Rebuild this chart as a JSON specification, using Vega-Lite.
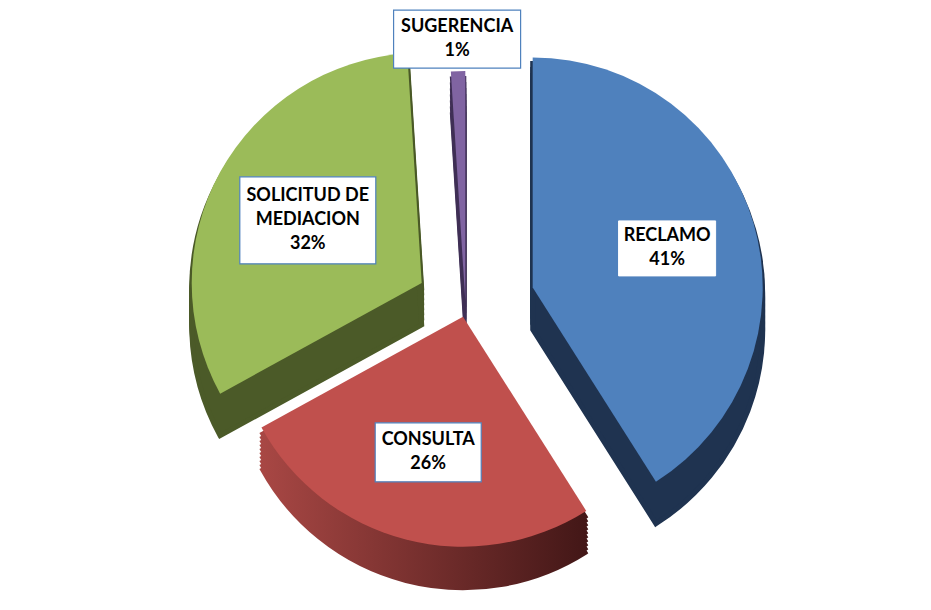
{
  "$schema": "https://vega.github.io/schema/vega-lite/v6.json",
  "width": 931,
  "height": 610,
  "autosize": {"type": "fit", "contains": "padding"},
  "padding": 0,
  "background": "white",
  "view": {"stroke": null},
  "data": {
    "values": [
      {"cat": "RECLAMO", "value": 41, "ord": 1, "label": ["RECLAMO", "41%"]},
      {"cat": "CONSULTA", "value": 26, "ord": 2, "label": ["CONSULTA", "26%"]},
      {"cat": "SOLICITUD DE MEDIACION", "value": 32, "ord": 3, "label": ["SOLICITUD DE", "MEDIACION", "32%"]},
      {"cat": "SUGERENCIA", "value": 1, "ord": 4, "label": ["SUGERENCIA", "1%"]}
    ]
  },
  "transform": [
    {"stack": "value", "groupby": [], "sort": [{"field": "ord", "order": "ascending"}], "as": ["v0", "v1"]}
  ],
  "layer": [
    {
      "encoding": {
        "theta": {"field": "v0", "type": "quantitative", "stack": null, "scale": {"domain": [0, 100]}},
        "theta2": {"field": "v1"}
      },
      "layer": [
        {"transform": [{"filter": "datum.cat === 'SUGERENCIA'"}], "mark": {"type": "arc", "radius": 230, "color": "#3f2f55", "stroke": "#3f2f55", "strokeWidth": 2, "xOffset": -0.2, "yOffset": 2}},
        {"transform": [{"filter": "datum.cat === 'SUGERENCIA'"}], "mark": {"type": "arc", "radius": 230, "color": "#3f2f55", "stroke": "#3f2f55", "strokeWidth": 2, "xOffset": -0.2, "yOffset": 8}},
        {"transform": [{"filter": "datum.cat === 'SUGERENCIA'"}], "mark": {"type": "arc", "radius": 230, "color": "#3f2f55", "stroke": "#3f2f55", "strokeWidth": 2, "xOffset": -0.2, "yOffset": 14}},
        {"transform": [{"filter": "datum.cat === 'SUGERENCIA'"}], "mark": {"type": "arc", "radius": 230, "color": "#3f2f55", "stroke": "#3f2f55", "strokeWidth": 2, "xOffset": -0.2, "yOffset": 20}},
        {"transform": [{"filter": "datum.cat === 'SUGERENCIA'"}], "mark": {"type": "arc", "radius": 230, "color": "#3f2f55", "stroke": "#3f2f55", "strokeWidth": 2, "xOffset": -0.2, "yOffset": 26}},
        {"transform": [{"filter": "datum.cat === 'SUGERENCIA'"}], "mark": {"type": "arc", "radius": 230, "color": "#3f2f55", "stroke": "#3f2f55", "strokeWidth": 2, "xOffset": -0.2, "yOffset": 32}},
        {"transform": [{"filter": "datum.cat === 'SUGERENCIA'"}], "mark": {"type": "arc", "radius": 230, "color": "#3f2f55", "stroke": "#3f2f55", "strokeWidth": 2, "xOffset": -0.2, "yOffset": 38}},
        {"transform": [{"filter": "datum.cat === 'SUGERENCIA'"}], "mark": {"type": "arc", "radius": 230, "color": "#8064a2", "xOffset": -0.2, "yOffset": -4}},

        {"transform": [{"filter": "datum.cat === 'SOLICITUD DE MEDIACION'"}], "mark": {"type": "arc", "radius": 230, "color": "#4b5a28", "stroke": "#4b5a28", "strokeWidth": 5, "xOffset": -43.8, "yOffset": -16.1}},
        {"transform": [{"filter": "datum.cat === 'SOLICITUD DE MEDIACION'"}], "mark": {"type": "arc", "radius": 230, "color": "#4b5a28", "stroke": "#4b5a28", "strokeWidth": 5, "xOffset": -43.8, "yOffset": -11.1}},
        {"transform": [{"filter": "datum.cat === 'SOLICITUD DE MEDIACION'"}], "mark": {"type": "arc", "radius": 230, "color": "#4b5a28", "stroke": "#4b5a28", "strokeWidth": 5, "xOffset": -43.8, "yOffset": -6.1}},
        {"transform": [{"filter": "datum.cat === 'SOLICITUD DE MEDIACION'"}], "mark": {"type": "arc", "radius": 230, "color": "#4b5a28", "stroke": "#4b5a28", "strokeWidth": 5, "xOffset": -43.8, "yOffset": -1.1}},
        {"transform": [{"filter": "datum.cat === 'SOLICITUD DE MEDIACION'"}], "mark": {"type": "arc", "radius": 230, "color": "#4b5a28", "stroke": "#4b5a28", "strokeWidth": 5, "xOffset": -43.8, "yOffset": 3.9}},
        {"transform": [{"filter": "datum.cat === 'SOLICITUD DE MEDIACION'"}], "mark": {"type": "arc", "radius": 230, "color": "#4b5a28", "stroke": "#4b5a28", "strokeWidth": 5, "xOffset": -43.8, "yOffset": 8.9}},
        {"transform": [{"filter": "datum.cat === 'SOLICITUD DE MEDIACION'"}], "mark": {"type": "arc", "radius": 230, "color": "#4b5a28", "stroke": "#4b5a28", "strokeWidth": 5, "xOffset": -43.8, "yOffset": 13.9}},
        {"transform": [{"filter": "datum.cat === 'SOLICITUD DE MEDIACION'"}], "mark": {"type": "arc", "radius": 230, "color": "#4b5a28", "stroke": "#4b5a28", "strokeWidth": 5, "xOffset": -43.8, "yOffset": 19.9}},
        {"transform": [{"filter": "datum.cat === 'SOLICITUD DE MEDIACION'"}], "mark": {"type": "arc", "radius": 230, "color": "#9bbb59", "xOffset": -43.8, "yOffset": -22.1}},

        {"transform": [{"filter": "datum.cat === 'RECLAMO'"}], "mark": {"type": "arc", "radius": 230, "color": "#1f3350", "stroke": "#1f3350", "strokeWidth": 5, "xOffset": 67.2, "yOffset": -11.5}},
        {"transform": [{"filter": "datum.cat === 'RECLAMO'"}], "mark": {"type": "arc", "radius": 230, "color": "#1f3350", "stroke": "#1f3350", "strokeWidth": 5, "xOffset": 67.2, "yOffset": -5.5}},
        {"transform": [{"filter": "datum.cat === 'RECLAMO'"}], "mark": {"type": "arc", "radius": 230, "color": "#1f3350", "stroke": "#1f3350", "strokeWidth": 5, "xOffset": 67.2, "yOffset": 0.5}},
        {"transform": [{"filter": "datum.cat === 'RECLAMO'"}], "mark": {"type": "arc", "radius": 230, "color": "#1f3350", "stroke": "#1f3350", "strokeWidth": 5, "xOffset": 67.2, "yOffset": 6.5}},
        {"transform": [{"filter": "datum.cat === 'RECLAMO'"}], "mark": {"type": "arc", "radius": 230, "color": "#1f3350", "stroke": "#1f3350", "strokeWidth": 5, "xOffset": 67.2, "yOffset": 12.5}},
        {"transform": [{"filter": "datum.cat === 'RECLAMO'"}], "mark": {"type": "arc", "radius": 230, "color": "#1f3350", "stroke": "#1f3350", "strokeWidth": 5, "xOffset": 67.2, "yOffset": 18.5}},
        {"transform": [{"filter": "datum.cat === 'RECLAMO'"}], "mark": {"type": "arc", "radius": 230, "color": "#1f3350", "stroke": "#1f3350", "strokeWidth": 5, "xOffset": 67.2, "yOffset": 24.5}},
        {"transform": [{"filter": "datum.cat === 'RECLAMO'"}], "mark": {"type": "arc", "radius": 230, "color": "#4f81bd", "xOffset": 67.2, "yOffset": -17.5}},

        {"transform": [{"filter": "datum.cat === 'CONSULTA'"}], "mark": {"type": "arc", "radius": 230, "color": {"gradient": "linear", "x1": 0, "y1": 0, "x2": 1, "y2": 0, "stops": [{"offset": 0, "color": "#a84744"}, {"offset": 1, "color": "#431717"}]}, "stroke": {"gradient": "linear", "x1": 0, "y1": 0, "x2": 1, "y2": 0, "stops": [{"offset": 0, "color": "#a84744"}, {"offset": 1, "color": "#431717"}]}, "strokeWidth": 3, "xOffset": -2.5, "yOffset": 17.7}},
        {"transform": [{"filter": "datum.cat === 'CONSULTA'"}], "mark": {"type": "arc", "radius": 230, "color": {"gradient": "linear", "x1": 0, "y1": 0, "x2": 1, "y2": 0, "stops": [{"offset": 0, "color": "#a84744"}, {"offset": 1, "color": "#431717"}]}, "stroke": {"gradient": "linear", "x1": 0, "y1": 0, "x2": 1, "y2": 0, "stops": [{"offset": 0, "color": "#a84744"}, {"offset": 1, "color": "#431717"}]}, "strokeWidth": 3, "xOffset": -2.5, "yOffset": 21.7}},
        {"transform": [{"filter": "datum.cat === 'CONSULTA'"}], "mark": {"type": "arc", "radius": 230, "color": {"gradient": "linear", "x1": 0, "y1": 0, "x2": 1, "y2": 0, "stops": [{"offset": 0, "color": "#a84744"}, {"offset": 1, "color": "#431717"}]}, "stroke": {"gradient": "linear", "x1": 0, "y1": 0, "x2": 1, "y2": 0, "stops": [{"offset": 0, "color": "#a84744"}, {"offset": 1, "color": "#431717"}]}, "strokeWidth": 3, "xOffset": -2.5, "yOffset": 25.7}},
        {"transform": [{"filter": "datum.cat === 'CONSULTA'"}], "mark": {"type": "arc", "radius": 230, "color": {"gradient": "linear", "x1": 0, "y1": 0, "x2": 1, "y2": 0, "stops": [{"offset": 0, "color": "#a84744"}, {"offset": 1, "color": "#431717"}]}, "stroke": {"gradient": "linear", "x1": 0, "y1": 0, "x2": 1, "y2": 0, "stops": [{"offset": 0, "color": "#a84744"}, {"offset": 1, "color": "#431717"}]}, "strokeWidth": 3, "xOffset": -2.5, "yOffset": 29.7}},
        {"transform": [{"filter": "datum.cat === 'CONSULTA'"}], "mark": {"type": "arc", "radius": 230, "color": {"gradient": "linear", "x1": 0, "y1": 0, "x2": 1, "y2": 0, "stops": [{"offset": 0, "color": "#a84744"}, {"offset": 1, "color": "#431717"}]}, "stroke": {"gradient": "linear", "x1": 0, "y1": 0, "x2": 1, "y2": 0, "stops": [{"offset": 0, "color": "#a84744"}, {"offset": 1, "color": "#431717"}]}, "strokeWidth": 3, "xOffset": -2.5, "yOffset": 33.7}},
        {"transform": [{"filter": "datum.cat === 'CONSULTA'"}], "mark": {"type": "arc", "radius": 230, "color": {"gradient": "linear", "x1": 0, "y1": 0, "x2": 1, "y2": 0, "stops": [{"offset": 0, "color": "#a84744"}, {"offset": 1, "color": "#431717"}]}, "stroke": {"gradient": "linear", "x1": 0, "y1": 0, "x2": 1, "y2": 0, "stops": [{"offset": 0, "color": "#a84744"}, {"offset": 1, "color": "#431717"}]}, "strokeWidth": 3, "xOffset": -2.5, "yOffset": 37.7}},
        {"transform": [{"filter": "datum.cat === 'CONSULTA'"}], "mark": {"type": "arc", "radius": 230, "color": {"gradient": "linear", "x1": 0, "y1": 0, "x2": 1, "y2": 0, "stops": [{"offset": 0, "color": "#a84744"}, {"offset": 1, "color": "#431717"}]}, "stroke": {"gradient": "linear", "x1": 0, "y1": 0, "x2": 1, "y2": 0, "stops": [{"offset": 0, "color": "#a84744"}, {"offset": 1, "color": "#431717"}]}, "strokeWidth": 3, "xOffset": -2.5, "yOffset": 41.7}},
        {"transform": [{"filter": "datum.cat === 'CONSULTA'"}], "mark": {"type": "arc", "radius": 230, "color": {"gradient": "linear", "x1": 0, "y1": 0, "x2": 1, "y2": 0, "stops": [{"offset": 0, "color": "#a84744"}, {"offset": 1, "color": "#431717"}]}, "stroke": {"gradient": "linear", "x1": 0, "y1": 0, "x2": 1, "y2": 0, "stops": [{"offset": 0, "color": "#a84744"}, {"offset": 1, "color": "#431717"}]}, "strokeWidth": 3, "xOffset": -2.5, "yOffset": 45.7}},
        {"transform": [{"filter": "datum.cat === 'CONSULTA'"}], "mark": {"type": "arc", "radius": 230, "color": {"gradient": "linear", "x1": 0, "y1": 0, "x2": 1, "y2": 0, "stops": [{"offset": 0, "color": "#a84744"}, {"offset": 1, "color": "#431717"}]}, "stroke": {"gradient": "linear", "x1": 0, "y1": 0, "x2": 1, "y2": 0, "stops": [{"offset": 0, "color": "#a84744"}, {"offset": 1, "color": "#431717"}]}, "strokeWidth": 3, "xOffset": -2.5, "yOffset": 49.7}},
        {"transform": [{"filter": "datum.cat === 'CONSULTA'"}], "mark": {"type": "arc", "radius": 230, "color": {"gradient": "linear", "x1": 0, "y1": 0, "x2": 1, "y2": 0, "stops": [{"offset": 0, "color": "#a84744"}, {"offset": 1, "color": "#431717"}]}, "stroke": {"gradient": "linear", "x1": 0, "y1": 0, "x2": 1, "y2": 0, "stops": [{"offset": 0, "color": "#a84744"}, {"offset": 1, "color": "#431717"}]}, "strokeWidth": 3, "xOffset": -2.5, "yOffset": 53.7}},
        {"transform": [{"filter": "datum.cat === 'CONSULTA'"}], "mark": {"type": "arc", "radius": 230, "color": "#c0504d", "xOffset": -2.5, "yOffset": 11.7}}
      ]
    },
    {"transform": [{"filter": "datum.cat === 'RECLAMO'"}], "encoding": {}, "mark": {"type": "point", "shape": "M-1.764,-1H1.764V1H-1.764Z", "size": 3025, "filled": true, "fill": "white", "stroke": "#ffffff", "strokeWidth": 1, "opacity": 1, "xOffset": 201.6, "yOffset": -56.6}},
    {"transform": [{"filter": "datum.cat === 'CONSULTA'"}], "encoding": {}, "mark": {"type": "point", "shape": "M-1.797,-1H1.797V1H-1.797Z", "size": 3481, "filled": true, "fill": "white", "stroke": "#4f81bd", "strokeWidth": 1.2, "opacity": 1, "xOffset": -37.3, "yOffset": 147.3}},
    {"transform": [{"filter": "datum.cat === 'SOLICITUD DE MEDIACION'"}], "encoding": {}, "mark": {"type": "point", "shape": "M-1.563,-1H1.563V1H-1.563Z", "size": 7569, "filled": true, "fill": "white", "stroke": "#4f81bd", "strokeWidth": 1.2, "opacity": 1, "xOffset": -157.7, "yOffset": -84.7}},
    {"transform": [{"filter": "datum.cat === 'SUGERENCIA'"}], "encoding": {}, "mark": {"type": "point", "shape": "M-2.19,-1H2.19V1H-2.19Z", "size": 3364, "filled": true, "fill": "white", "stroke": "#4f81bd", "strokeWidth": 1.2, "opacity": 1, "xOffset": -8.4, "yOffset": -265.9}},
    {
      "mark": {"type": "text", "radius": 140, "xOffset": 67.2, "yOffset": -29.5, "font": "Lato", "fontWeight": "bold", "fontSize": 18, "lineHeight": 24, "color": "black", "align": "center", "baseline": "middle"},
      "encoding": {
        "theta": {"field": "value", "type": "quantitative", "stack": true, "scale": {"domain": [0, 100]}},
        "order": {"field": "ord", "type": "quantitative"},
        "text": {"condition": {"test": "datum.cat === 'RECLAMO'", "field": "label"}, "value": ""}
      }
    },
    {
      "mark": {"type": "text", "radius": 140, "xOffset": -2.5, "yOffset": -0.3, "font": "Lato", "fontWeight": "bold", "fontSize": 18, "lineHeight": 24, "color": "black", "align": "center", "baseline": "middle"},
      "encoding": {
        "theta": {"field": "value", "type": "quantitative", "stack": true, "scale": {"domain": [0, 100]}},
        "order": {"field": "ord", "type": "quantitative"},
        "text": {"condition": {"test": "datum.cat === 'CONSULTA'", "field": "label"}, "value": ""}
      }
    },
    {
      "mark": {"type": "text", "radius": 130, "xOffset": -43.8, "yOffset": -46.1, "font": "Lato", "fontWeight": "bold", "fontSize": 18, "lineHeight": 24, "color": "black", "align": "center", "baseline": "middle"},
      "encoding": {
        "theta": {"field": "value", "type": "quantitative", "stack": true, "scale": {"domain": [0, 100]}},
        "order": {"field": "ord", "type": "quantitative"},
        "text": {"condition": {"test": "datum.cat === 'SOLICITUD DE MEDIACION'", "field": "label"}, "value": ""}
      }
    },
    {
      "mark": {"type": "text", "radius": 260, "xOffset": -0.2, "yOffset": -18, "font": "Lato", "fontWeight": "bold", "fontSize": 18, "lineHeight": 24, "color": "black", "align": "center", "baseline": "middle"},
      "encoding": {
        "theta": {"field": "value", "type": "quantitative", "stack": true, "scale": {"domain": [0, 100]}},
        "order": {"field": "ord", "type": "quantitative"},
        "text": {"condition": {"test": "datum.cat === 'SUGERENCIA'", "field": "label"}, "value": ""}
      }
    }
  ]
}
